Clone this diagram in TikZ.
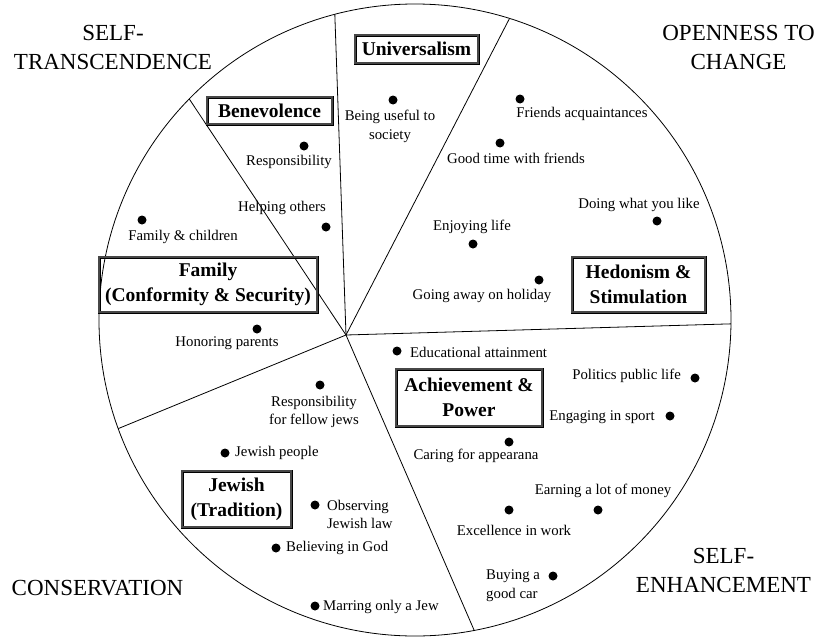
\documentclass[tikz,border=0pt]{standalone}
\usepackage{fontspec}
\setmainfont{Liberation Serif}
\usetikzlibrary{calc}
\begin{document}
\begin{tikzpicture}[x=1pt,y=-1pt,
  spoke/.style={line width=0.8pt},
  ring/.style={line width=0.8pt},
  dot/.style={circle,fill=black,inner sep=0pt,minimum size=9pt},
  lbl/.style={inner sep=0pt,font=\fontsize{14.8}{18.5}\selectfont,align=center},
  corner/.style={inner sep=0pt,font=\fontsize{23}{29}\selectfont,align=center},
  valbox/.style={draw=black,line width=0.8pt,double=black!72,double distance=1.4pt,
    inner sep=0pt,align=center,
    font=\fontsize{19.5}{25}\selectfont\bfseries}]
\useasboundingbox (0,0) rectangle (822,637);
% circle and spokes
\coordinate (C) at (415,320);
\coordinate (hub) at (346,335);
\draw[ring] (C) circle[radius=316];
\coordinate (e1) at ($(C)+(-135.6:316)$);
\coordinate (e2) at ($(C)+(-104.7:316)$);
\coordinate (e3) at ($(C)+(-72.6:316)$);
\coordinate (e4) at ($(C)+(0.7:316)$);
\coordinate (e5) at ($(C)+(79.2:316)$);
\coordinate (e6) at ($(C)+(159.9:316)$);
\foreach \e in {e1,e2,e3,e4,e5,e6} \draw[spoke] (hub) -- (\e);
% corner labels
\node[corner] (ct) at (113,47.5) {SELF-\\TRANSCENDENCE};
\node[corner] (co) at (738.5,47.5) {OPENNESS TO\\CHANGE};
\node[corner] (cc) at (97.5,588) {CONSERVATION};
\node[corner] (ce) at (723.5,570) {SELF-\\ENHANCEMENT};
% value boxes
\node[valbox,minimum width=123pt,minimum height=28pt] (bu) at (416.5,49) {Universalism};
\node[valbox,minimum width=125pt,minimum height=27pt] (bb) at (269.5,110.5) {Benevolence};
\node[valbox,minimum width=218pt,minimum height=55pt] (bf) at (208,284.5) {Family\\(Conformity \& Security)};
\node[valbox,minimum width=133pt,minimum height=55pt] (bh) at (638.5,284.5) {Hedonism \&\\Stimulation};
\node[valbox,minimum width=146pt,minimum height=57pt] (ba) at (469,397.5) {Achievement \&\\Power};
\node[valbox,minimum width=109pt,minimum height=56pt] (bj) at (236.5,499) {Jewish\\(Tradition)};
% universalism
\node[dot] (d1) at (393,100) {};
\node[lbl] (t1) at (390,126.5) {Being useful to\\society};
% benevolence
\node[dot] (d2) at (304,146) {};
\node[lbl] (t2) at (289,162) {Responsibility};
\node[dot] (d3) at (326,227) {};
\node[lbl] (t3) at (282,208) {Helping others};
% family
\node[dot] (d4) at (142,220) {};
\node[lbl] (t4) at (183,237) {Family \& children};
\node[dot] (d5) at (257,329) {};
\node[lbl] (t5) at (227,343) {Honoring parents};
% jewish
\node[dot] (d6) at (320,385) {};
\node[lbl] (t6) at (314,412) {Responsibility\\for fellow jews};
\node[dot] (d7) at (225,453) {};
\node[lbl,anchor=west] (t7) at (235,453) {Jewish people};
\node[dot] (d8) at (315,505) {};
\node[lbl,anchor=west,align=left] (t8) at (327,514.5) {Observing\\Jewish law};
\node[dot] (d9) at (276,548) {};
\node[lbl,anchor=west] (t9) at (286,548) {Believing in God};
\node[dot] (d10) at (315,606) {};
\node[lbl,anchor=west] (t10) at (323,607) {Marring only a Jew};
% hedonism
\node[dot] (d11) at (520,99) {};
\node[lbl] (t11) at (582,114) {Friends acquaintances};
\node[dot] (d12) at (500,143) {};
\node[lbl] (t12) at (516,158) {Good time with friends};
\node[dot] (d13) at (657,221) {};
\node[lbl] (t13) at (639,205) {Doing what you like};
\node[dot] (d14) at (473,244) {};
\node[lbl] (t14) at (472,227) {Enjoying life};
\node[dot] (d15) at (539,280) {};
\node[lbl] (t15) at (482,296) {Going away on holiday};
% achievement
\node[dot] (d16) at (397,351) {};
\node[lbl,anchor=west] (t16) at (410,352) {Educational attainment};
\node[dot] (d17) at (695,378) {};
\node[lbl,anchor=east] (t17) at (681,376) {Politics public life};
\node[dot] (d18) at (670,416) {};
\node[lbl] (t18) at (602,417) {Engaging in sport};
\node[dot] (d19) at (509,442) {};
\node[lbl] (t19) at (476,456) {Caring for appearana};
\node[dot] (d20) at (598,510) {};
\node[lbl] (t20) at (603,491) {Earning a lot of money};
\node[dot] (d21) at (509,510) {};
\node[lbl] (t21) at (514,530) {Excellence in work};
\node[dot] (d22) at (553,576) {};
\node[lbl,anchor=west,align=left] (t22) at (486,585.5) {Buying a\\good car};
\end{tikzpicture}
\end{document}
